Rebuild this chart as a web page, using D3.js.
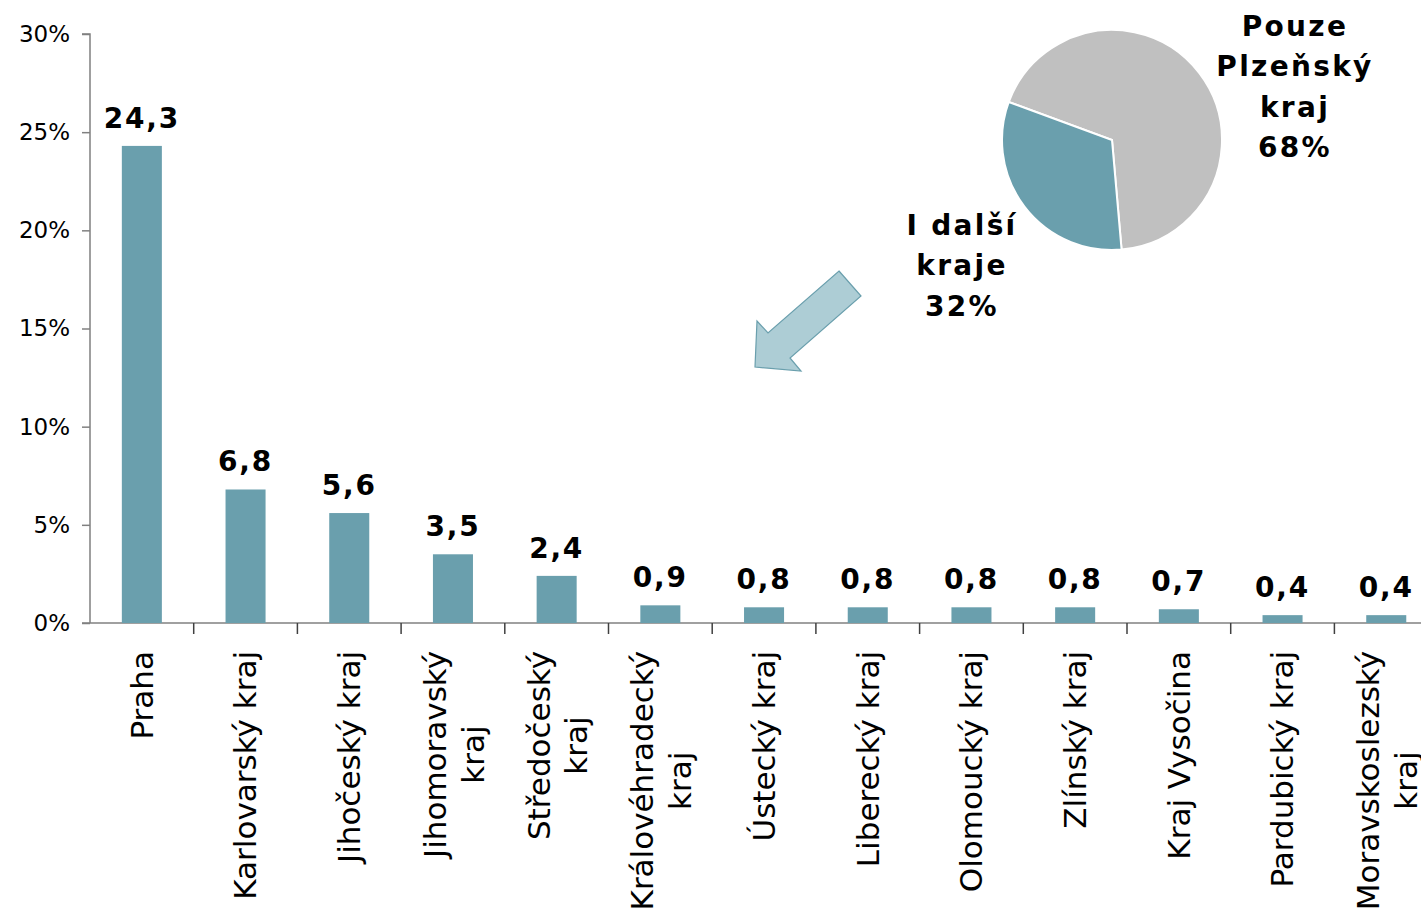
<!DOCTYPE html>
<html><head><meta charset="utf-8">
<script src="https://cdn.jsdelivr.net/npm/d3@7"></script>
<style>
body{margin:0;background:#fff;}
svg{display:block;}
</style></head>
<body>
<svg id="chart" width="1421" height="916"></svg>
<script>
// ---- data ----
const categories = ["Praha","Karlovarský kraj","Jihočeský kraj","Jihomoravský\nkraj","Středočeský\nkraj","Královéhradecký\nkraj","Ústecký kraj","Liberecký kraj","Olomoucký kraj","Zlínský kraj","Kraj Vysočina","Pardubický kraj","Moravskoslezský\nkraj"];
const values = [24.3, 6.8, 5.6, 3.5, 2.4, 0.9, 0.8, 0.8, 0.8, 0.8, 0.7, 0.4, 0.4];
const yTicks = [0, 5, 10, 15, 20, 25, 30];
const pieLabels = ["Pouze Plzeňský kraj", "I další kraje"];
const pieValues = [68, 32];

// ---- styles ----
const barColor = "#6a9fad";
const axisColor = "#808080";
const svg = d3.select("#chart");

const x0 = 90, y0 = 623, yTop = 34;
const step = 103.7;
const x = d3.scaleBand().domain(categories)
  .range([x0, x0 + step * categories.length])
  .paddingInner(0.614).paddingOuter(0.307);
const y = d3.scaleLinear().domain([0, 30]).range([y0, yTop]);

// y axis
const yAxis = d3.axisLeft(y).tickValues(yTicks).tickSize(8).tickPadding(12)
  .tickFormat(d => d + "%");
const gy = svg.append("g").attr("transform", `translate(${x0},0)`).call(yAxis);
gy.select(".domain").attr("stroke", axisColor).attr("stroke-width", 1.5).attr("d", `M-8,${yTop}H0V${y0}`);
gy.selectAll(".tick line").attr("stroke", axisColor).attr("stroke-width", 1.5);
gy.selectAll(".tick text").attr("font-family", "DejaVu Sans").attr("font-size", 23).attr("fill", "#000");

// x axis line and ticks at band boundaries
svg.append("line").attr("x1", x0 - 8).attr("x2", 1421).attr("y1", y0).attr("y2", y0)
  .attr("stroke", axisColor).attr("stroke-width", 1.5);
const boundaries = d3.range(1, categories.length + 1).map(i => x0 + i * x.step());
svg.selectAll(".xt").data(boundaries).join("line")
  .attr("x1", d => d).attr("x2", d => d).attr("y1", y0).attr("y2", y0 + 11)
  .attr("stroke", "#404040").attr("stroke-width", 1.5);

// bars
svg.selectAll(".bar").data(values).join("rect")
  .attr("x", (d, i) => x(categories[i]))
  .attr("width", x.bandwidth())
  .attr("y", d => y(d))
  .attr("height", d => y0 - y(d))
  .attr("fill", barColor);

// value labels
svg.selectAll(".vl").data(values).join("text")
  .attr("x", (d, i) => x(categories[i]) + x.bandwidth() / 2)
  .attr("y", d => y(d) - 18)
  .attr("text-anchor", "middle")
  .attr("font-family", "DejaVu Sans").attr("font-weight", "bold")
  .attr("font-size", 28).attr("letter-spacing", 1.8)
  .text(d => d.toFixed(1).replace(".", ","));

// category labels (rotated)
categories.forEach((c, i) => {
  const cx = x(c) + x.bandwidth() / 2;
  const lines = c.split("\n");
  const g = svg.append("g").attr("transform", `translate(${cx},${y0}) rotate(-90)`);
  const common = t => t.attr("font-family", "DejaVu Sans").attr("font-size", 31).attr("fill", "#000");
  if (lines.length === 1) {
    common(g.append("text")).attr("x", -28).attr("y", 0).attr("dy", "0.35em")
      .attr("text-anchor", "end").text(lines[0]);
  } else {
    const t1 = common(g.append("text")).attr("x", -28).attr("y", -18).attr("dy", "0.35em")
      .attr("text-anchor", "end").text(lines[0]);
    const len = t1.node().getComputedTextLength();
    common(g.append("text")).attr("x", -28 - len / 2).attr("y", 20).attr("dy", "0.35em")
      .attr("text-anchor", "middle").text(lines[1]);
  }
});

// pie
const pieCx = 1112, pieCy = 140, pieR = 110;
const start = -69.8 * Math.PI / 180;
const pie = d3.pie().sort(null).startAngle(start).endAngle(start + 2 * Math.PI);
const arc = d3.arc().innerRadius(0).outerRadius(pieR);
const pieColors = ["#c0c0c0", barColor];
svg.append("g").attr("transform", `translate(${pieCx},${pieCy})`)
  .selectAll("path").data(pie(pieValues)).join("path")
  .attr("d", arc).attr("fill", (d, i) => pieColors[i])
  .attr("stroke", "#fff").attr("stroke-width", 2);

// pie labels
const pieLabelLines = [
  {lines: ["Pouze", "Plzeňský", "kraj", pieValues[0] + "%"], x: 1295, y: 36},
  {lines: ["I další", "kraje", pieValues[1] + "%"], x: 962, y: 235}
];
pieLabelLines.forEach(p => {
  const t = svg.append("text").attr("text-anchor", "middle")
    .attr("font-family", "DejaVu Sans").attr("font-weight", "bold")
    .attr("font-size", 28).attr("letter-spacing", 2.3);
  p.lines.forEach((l, j) => t.append("tspan").attr("x", p.x).attr("y", p.y + j * 40.3).text(l));
});

// arrow (decoration)
const arrowPts = [[839,271],[861,296],[790,358],[801,371],[755,367],[757,321],[768,333]];
svg.append("polygon").attr("points", arrowPts.map(p => p.join(",")).join(" "))
  .attr("fill", "#adcdd5").attr("stroke", "#6a9fad").attr("stroke-width", 1.2);
</script>
</body></html>
